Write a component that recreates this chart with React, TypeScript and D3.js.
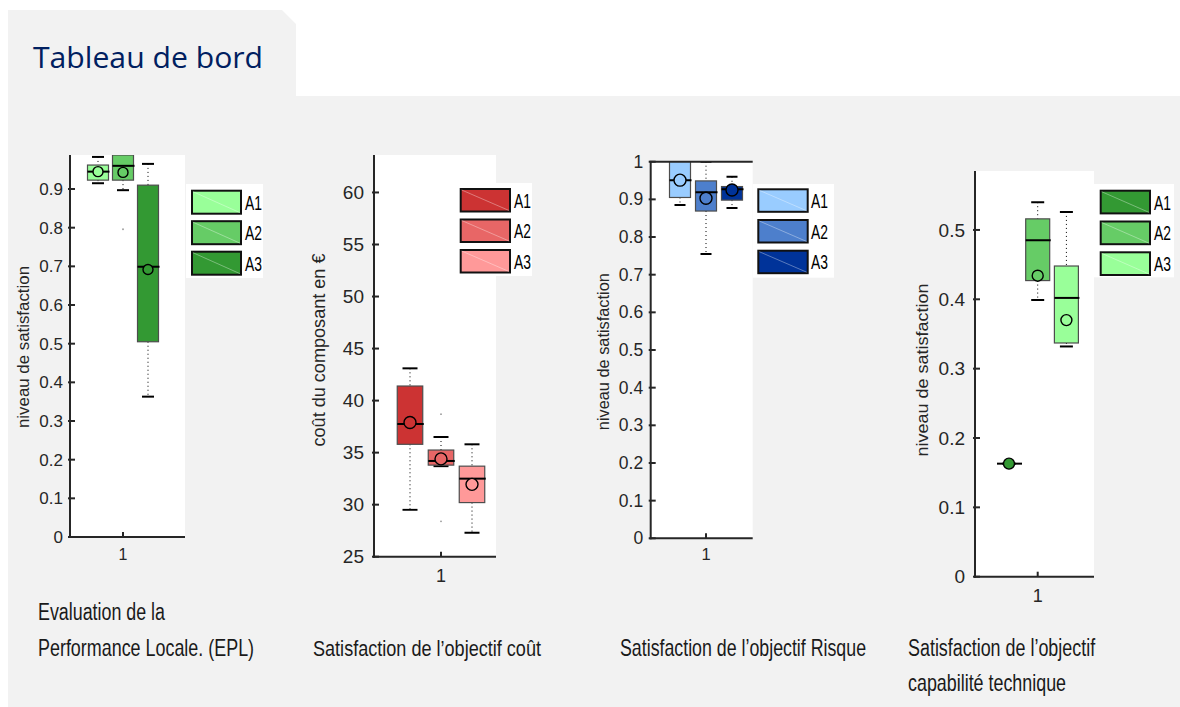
import React, { useLayoutEffect, useRef, useState } from "react";
import * as d3 from "d3";

// ---------- DATA ----------
const groups = ["A1", "A2", "A3"];

// Panel 1: Evaluation de la Performance Locale (EPL)
const eplLow = [0.915, 0.897, 0.363];
const eplQ1 = [0.923, 0.923, 0.505];
const eplMedian = [0.945, 0.96, 0.699];
const eplQ3 = [0.962, 0.988, 0.91];
const eplHigh = [0.983, 1.0, 0.965];
const eplMean = [0.945, 0.943, 0.692];
const eplOutliers = [[], [0.796], []];
const eplTicks = [0, 0.1, 0.2, 0.3, 0.4, 0.5, 0.6, 0.7, 0.8, 0.9];

// Panel 2: Satisfaction de l'objectif coût
const coutLow = [29.5, 33.7, 27.3];
const coutQ1 = [35.8, 33.8, 30.2];
const coutMedian = [37.75, 34.2, 32.5];
const coutQ3 = [41.4, 35.25, 33.7];
const coutHigh = [43.1, 36.5, 35.8];
const coutMean = [37.9, 34.4, 31.95];
const coutOutliers = [[], [38.7, 28.4], []];
const coutTicks = [25, 30, 35, 40, 45, 50, 55, 60];

// Panel 3: Satisfaction de l'objectif Risque
const risqueLow = [0.885, 0.755, 0.877];
const risqueQ1 = [0.905, 0.869, 0.898];
const risqueMedian = [0.951, 0.919, 0.927];
const risqueQ3 = [1.02, 0.949, 0.934];
const risqueHigh = [1.05, 1.0, 0.96];
const risqueMean = [0.951, 0.903, 0.925];
const risqueOutliers = [[], [], []];
const risqueTicks = [0, 0.1, 0.2, 0.3, 0.4, 0.5, 0.6, 0.7, 0.8, 0.9, 1];

// Panel 4: Satisfaction de l'objectif capabilité technique
const capLow = [0.163, 0.399, 0.332];
const capQ1 = [0.163, 0.427, 0.337];
const capMedian = [0.163, 0.485, 0.402];
const capQ3 = [0.163, 0.516, 0.448];
const capHigh = [0.163, 0.54, 0.526];
const capMean = [0.163, 0.434, 0.37];
const capOutliers = [[], [], []];
const capTicks = [0, 0.1, 0.2, 0.3, 0.4, 0.5];

const xCategory = ["1"];

const captions = [
  "Evaluation de la",
  "Performance Locale. (EPL)",
  "Satisfaction de l’objectif coût",
  "Satisfaction de l’objectif Risque",
  "Satisfaction de l’objectif",
  "capabilité technique",
];

// ---------- STYLE / LAYOUT ----------
const BG = "#f2f2f2";
const AXIS = "#262626";
const FONT = "'Liberation Sans', Arial, Helvetica, sans-serif";

const greensLight = ["#99ff99", "#66cc66", "#339933"];
const reds = ["#cc3333", "#e86666", "#ff9999"];
const blues = ["#99ccff", "#4d7fcc", "#003399"];
const greensDark = ["#339933", "#66cc66", "#99ff99"];

const panels = [
  {
    id: "p1",
    stats: { low: eplLow, q1: eplQ1, med: eplMedian, q3: eplQ3, high: eplHigh, mean: eplMean, out: eplOutliers },
    ticks: eplTicks,
    fmt: (v) => String(+v.toFixed(1)),
    domain: [0, 0.988],
    plot: { x0: 70, x1: 185, yTop: 155, yBottom: 537 },
    topLine: false,
    xTick: 123, spacing: 25, boxW: 21, capW: 12, r: 5,
    fs: 17, gap: 7, xLabelY: 560,
    ylabel: { text: "niveau de satisfaction", x: 23, y: 347, size: 16, len: 162 },
    legend: { x0: 186, y0: 184, x1: 263, y1: 278, swX: 192, swW: 49, swY: 190.7, swH: 23, step: 30.5, labX: 245, labLen: 17 },
    colors: greensLight,
  },
  {
    id: "p2",
    stats: { low: coutLow, q1: coutQ1, med: coutMedian, q3: coutQ3, high: coutHigh, mean: coutMean, out: coutOutliers },
    ticks: coutTicks,
    fmt: (v) => String(v),
    domain: [25, 63.6],
    plot: { x0: 374, x1: 496, yTop: 155, yBottom: 556.7 },
    topLine: false,
    xTick: 441, spacing: 31, boxW: 25.5, capW: 15, r: 6,
    fs: 19, gap: 10, xLabelY: 582,
    ylabel: { text: "coût du composant en €", x: 319, y: 350, size: 18, len: 193 },
    legend: { x0: 458, y0: 183, x1: 532, y1: 276, swX: 460.7, swW: 49.3, swY: 189, swH: 22.5, step: 30.5, labX: 514, labLen: 17 },
    colors: reds,
  },
  {
    id: "p3",
    stats: { low: risqueLow, q1: risqueQ1, med: risqueMedian, q3: risqueQ3, high: risqueHigh, mean: risqueMean, out: risqueOutliers },
    ticks: risqueTicks,
    fmt: (v) => String(+v.toFixed(1)),
    domain: [0, 1],
    plot: { x0: 650.7, x1: 752.7, yTop: 161.7, yBottom: 538.3 },
    topLine: true,
    xTick: 706, spacing: 26, boxW: 21, capW: 11, r: 6,
    fs: 17.5, gap: 7.5, xLabelY: 560,
    ylabel: { text: "niveau de satisfaction", x: 603, y: 351.7, size: 16, len: 157 },
    legend: { x0: 752.7, y0: 184, x1: 834, y1: 277.7, swX: 758.3, swW: 49.4, swY: 189.3, swH: 22.5, step: 30.7, labX: 811, labLen: 17 },
    colors: blues,
  },
  {
    id: "p4",
    stats: { low: capLow, q1: capQ1, med: capMedian, q3: capQ3, high: capHigh, mean: capMean, out: capOutliers },
    ticks: capTicks,
    fmt: (v) => String(+v.toFixed(1)),
    domain: [0, 0.585],
    plot: { x0: 975, x1: 1094, yTop: 171, yBottom: 576.7 },
    topLine: false,
    xTick: 1037.7, spacing: 28.7, boxW: 24, capW: 13, r: 5.5,
    fs: 19, gap: 10, xLabelY: 602,
    ylabel: { text: "niveau de satisfaction", x: 922, y: 370, size: 17, len: 173 },
    legend: { x0: 1094, y0: 184, x1: 1174, y1: 277.3, swX: 1100.7, swW: 49.3, swY: 190.7, swH: 22.7, step: 30.8, labX: 1154, labLen: 17 },
    colors: greensDark,
  },
];

const captionLayout = [
  { x: 38, y: 620, len: 127 },
  { x: 38, y: 656, len: 216 },
  { x: 313, y: 656, len: 228 },
  { x: 620, y: 656, len: 246 },
  { x: 908, y: 656, len: 187 },
  { x: 908, y: 691, len: 158 },
];

// Text horizontally scaled so its rendered width equals `len`
function FitText({ x, y, len, children, ...rest }) {
  const ref = useRef(null);
  const [s, setS] = useState(0.8);
  useLayoutEffect(() => {
    if (ref.current) {
      const w = ref.current.getComputedTextLength();
      if (w > 0) setS(len / w);
    }
  }, [len, children]);
  return (
    <g transform={`translate(${x},${y}) scale(${s},1)`}>
      <text ref={ref} x={0} y={0} {...rest}>
        {children}
      </text>
    </g>
  );
}

function Panel({ cfg }) {
  const { plot, stats, colors, legend } = cfg;
  const y = d3.scaleLinear().domain(cfg.domain).range([plot.yBottom, plot.yTop]);
  const xCat = d3.scalePoint().domain(xCategory).range([cfg.xTick, cfg.xTick]);
  const xg = d3
    .scalePoint()
    .domain(groups)
    .range([xCat("1") - cfg.spacing, xCat("1") + cfg.spacing]);
  const clipId = `clip-${cfg.id}`;
  return (
    <g>
      <defs>
        <clipPath id={clipId}>
          <rect x={plot.x0} y={plot.yTop} width={plot.x1 - plot.x0} height={plot.yBottom - plot.yTop} />
        </clipPath>
      </defs>
      <rect x={plot.x0} y={plot.yTop} width={plot.x1 - plot.x0} height={plot.yBottom - plot.yTop} fill="#fff" />
      <g clipPath={`url(#${clipId})`}>
        {groups.map((g, i) => {
          const cx = xg(g);
          const hw = cfg.boxW / 2;
          const cw = cfg.capW / 2;
          const yq1 = y(stats.q1[i]);
          const yq3 = y(stats.q3[i]);
          return (
            <g key={g}>
              <line x1={cx} x2={cx} y1={y(stats.high[i])} y2={yq3} stroke="#000" strokeWidth={1} strokeDasharray="1,3" />
              <line x1={cx} x2={cx} y1={yq1} y2={y(stats.low[i])} stroke="#000" strokeWidth={1} strokeDasharray="1,3" />
              <line x1={cx - cw} x2={cx + cw} y1={y(stats.high[i])} y2={y(stats.high[i])} stroke="#000" strokeWidth={2} />
              <line x1={cx - cw} x2={cx + cw} y1={y(stats.low[i])} y2={y(stats.low[i])} stroke="#000" strokeWidth={2} />
              <rect x={cx - hw} y={yq3} width={cfg.boxW} height={Math.max(0, yq1 - yq3)} fill={colors[i]} stroke="#4d4d4d" strokeWidth={1.2} />
              <line x1={cx - hw} x2={cx + hw + 1} y1={y(stats.med[i])} y2={y(stats.med[i])} stroke="#000" strokeWidth={2} />
              <circle cx={cx} cy={y(stats.mean[i])} r={cfg.r} fill={colors[i]} stroke="#000" strokeWidth={1.4} />
              {stats.out[i].map((o, k) => (
                <circle key={k} cx={cx} cy={y(o)} r={0.9} fill="#999" />
              ))}
            </g>
          );
        })}
      </g>
      {/* axes */}
      <line x1={plot.x0} x2={plot.x0} y1={plot.yTop} y2={plot.yBottom + 1} stroke={AXIS} strokeWidth={2} />
      <line x1={plot.x0 - 1} x2={plot.x1} y1={plot.yBottom} y2={plot.yBottom} stroke={AXIS} strokeWidth={2} />
      {cfg.topLine && (
        <line x1={plot.x0 - 1} x2={plot.x1} y1={plot.yTop} y2={plot.yTop} stroke={AXIS} strokeWidth={2} />
      )}
      {cfg.ticks.map((t) => (
        <g key={t}>
          <line x1={plot.x0 - 2} x2={plot.x0 + 5} y1={y(t)} y2={y(t)} stroke={AXIS} strokeWidth={2} />
          <text
            x={plot.x0 - cfg.gap}
            y={y(t)}
            dy="0.35em"
            textAnchor="end"
            fontFamily={FONT}
            fontSize={cfg.fs}
            fill="#262626"
          >
            {cfg.fmt(t)}
          </text>
        </g>
      ))}
      {xCategory.map((c) => (
        <g key={c}>
          <line x1={xCat(c)} x2={xCat(c)} y1={plot.yBottom} y2={plot.yBottom - 5} stroke={AXIS} strokeWidth={2} />
          <text x={xCat(c)} y={cfg.xLabelY} textAnchor="middle" fontFamily={FONT} fontSize={cfg.fs - 1} fill="#262626">
            {c}
          </text>
        </g>
      ))}
      <text
        transform={`translate(${cfg.ylabel.x},${cfg.ylabel.y}) rotate(-90)`}
        textAnchor="middle"
        dy="0.35em"
        fontFamily={FONT}
        fontSize={cfg.ylabel.size}
        fill="#262626"
        textLength={cfg.ylabel.len}
        lengthAdjust="spacingAndGlyphs"
      >
        {cfg.ylabel.text}
      </text>
      {/* legend */}
      <rect x={legend.x0} y={legend.y0} width={legend.x1 - legend.x0} height={legend.y1 - legend.y0} fill="#fff" />
      {groups.map((g, i) => {
        const sy = legend.swY + i * legend.step;
        return (
          <g key={g}>
            <rect x={legend.swX} y={sy} width={legend.swW} height={legend.swH} fill={colors[i]} stroke="#111" strokeWidth={2} />
            <line
              x1={legend.swX + 1}
              y1={sy + 1}
              x2={legend.swX + legend.swW - 1}
              y2={sy + legend.swH - 1}
              stroke="#fff"
              strokeOpacity={0.35}
              strokeWidth={1}
            />
            <FitText
              x={legend.labX}
              y={sy + legend.swH / 2 + 7.5}
              len={legend.labLen}
              fontFamily={FONT}
              fontSize={21}
              fill="#000"
            >
              {g}
            </FitText>
          </g>
        );
      })}
    </g>
  );
}

export default function App() {
  return (
    <svg
      width={1180}
      height={707}
      style={{ position: "absolute", left: 0, top: 0, display: "block", background: "#fff" }}
    >
      <path d="M8,10 L282,10 L296,24 L296,96 L1180,96 L1180,707 L8,707 Z" fill={BG} />
      <FitText
        x={33}
        y={68}
        len={230}
        fontFamily="'Open Sans', 'Noto Sans', sans-serif"
        fontSize={30}
        fill="#002060"
      >
        Tableau de bord
      </FitText>
      {panels.map((p) => (
        <Panel key={p.id} cfg={p} />
      ))}
      {captions.map((c, i) => (
        <FitText
          key={i}
          x={captionLayout[i].x}
          y={captionLayout[i].y}
          len={captionLayout[i].len}
          fontFamily={FONT}
          fontSize={23}
          fill="#1a1a1a"
        >
          {c}
        </FitText>
      ))}
    </svg>
  );
}
